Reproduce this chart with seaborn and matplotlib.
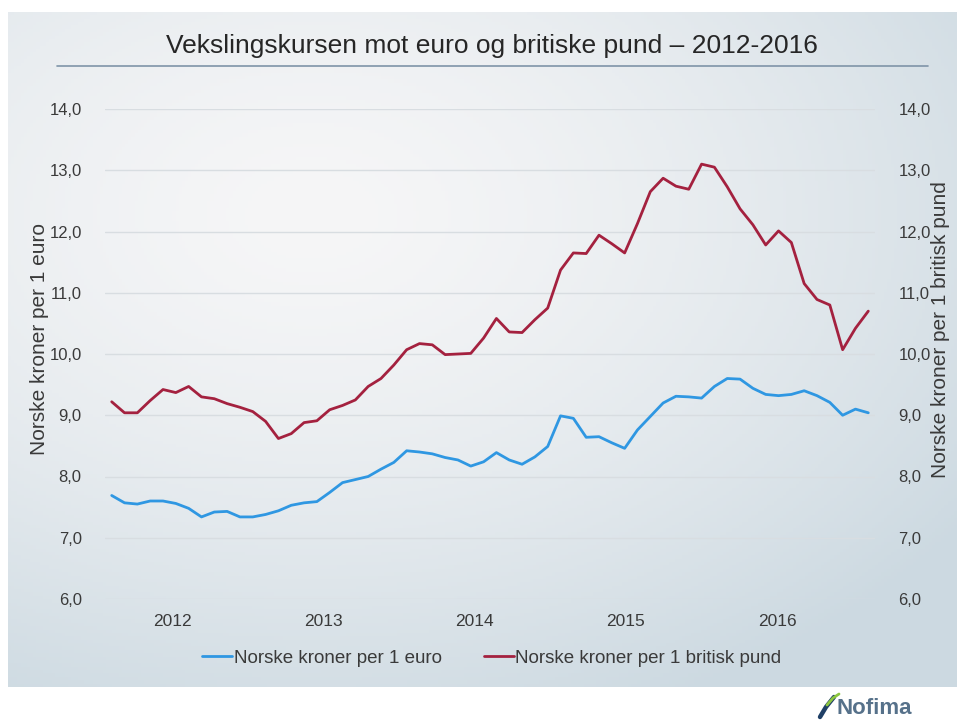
import numpy as np
import pandas as pd
import matplotlib.pyplot as plt
import seaborn as sns
from matplotlib.colors import to_rgb
from matplotlib.lines import Line2D

# Monthly exchange rates (60 months, 2012-2016)
euro = [7.69, 7.57, 7.55, 7.60, 7.60, 7.56, 7.48, 7.34, 7.42, 7.43, 7.34, 7.34,
        7.38, 7.44, 7.53, 7.57, 7.59, 7.74, 7.90, 7.95, 8.00, 8.12, 8.23, 8.42,
        8.40, 8.37, 8.31, 8.27, 8.17, 8.24, 8.39, 8.27, 8.20, 8.32, 8.49, 8.99,
        8.95, 8.64, 8.65, 8.55, 8.46, 8.76, 8.98, 9.20, 9.31, 9.30, 9.28, 9.47,
        9.60, 9.59, 9.44, 9.34, 9.32, 9.34, 9.40, 9.32, 9.21, 9.00, 9.10, 9.04]
pund = [9.22, 9.04, 9.04, 9.24, 9.42, 9.37, 9.47, 9.30, 9.27, 9.19, 9.13, 9.06,
        8.90, 8.62, 8.70, 8.88, 8.91, 9.09, 9.16, 9.25, 9.47, 9.60, 9.82, 10.07,
        10.17, 10.15, 9.99, 10.00, 10.01, 10.26, 10.58, 10.36, 10.35, 10.56, 10.75, 11.37,
        11.65, 11.64, 11.94, 11.80, 11.65, 12.13, 12.65, 12.87, 12.74, 12.69, 13.10, 13.05,
        12.73, 12.37, 12.11, 11.78, 12.01, 11.82, 11.15, 10.89, 10.80, 10.07, 10.42, 10.70]
years = ['2012', '2013', '2014', '2015', '2016']
y_ticks = [6, 7, 8, 9, 10, 11, 12, 13, 14]

title = 'Vekslingskursen mot euro og britiske pund – 2012-2016'
euro_label = 'Norske kroner per 1 euro'
pund_label = 'Norske kroner per 1 britisk pund'

df = pd.DataFrame({'maaned': np.arange(len(euro)), euro_label: euro, pund_label: pund})
df = df.melt('maaned', var_name='serie', value_name='kurs')

sns.set_theme(style='white')
plt.rcParams['font.family'] = ['Liberation Sans', 'DejaVu Sans']
txt = '#3a3a3a'
blue, red = '#2f97e2', '#a4213f'

W, H = 957, 722
fig = plt.figure(figsize=(W / 100, H / 100), dpi=100)
fig.patch.set_facecolor('white')


def fx(px):
    return px / W


def fy(py):
    return 1 - py / H


# gradient background panel
bg = fig.add_axes([fx(8), fy(687), fx(957) - fx(8), fy(12) - fy(687)], zorder=0)
yy, xx = np.mgrid[0:1:200j, 0:1:300j]
d = np.sqrt(((xx - 0.32) / 1.0) ** 2 + ((yy - 0.3) / 0.95) ** 2)
t = np.clip(d / 0.85, 0, 1) ** 1.5
c0, c1 = np.array(to_rgb('#f6f6f7')), np.array(to_rgb('#ccd9e1'))
bg.imshow(c0 + (c1 - c0) * t[..., None], aspect='auto', extent=[0, 1, 1, 0])
bg.axis('off')

# main plot area
ax = fig.add_axes([fx(105.3), fy(599), (874.7 - 105.3) / W, (599 - 109) / H], zorder=2)
ax.patch.set_alpha(0)
sns.lineplot(data=df, x='maaned', y='kurs', hue='serie', palette=[blue, red],
             linewidth=2.0, ax=ax, legend=False)
ax.set_xlim(-0.5, len(euro) - 0.5)
ax.set_ylim(6, 14)
ax.set_yticks(y_ticks)
ax.set_yticklabels([f'{v:.1f}'.replace('.', ',') for v in y_ticks])
ax.set_xticks(np.linspace(4.7, 51.9, len(years)))
ax.set_xticklabels(years)
ax.yaxis.grid(True, color='#d8dde1', linewidth=1)
ax.tick_params(axis='y', length=0, pad=17, labelsize=12, labelcolor=txt)
ax.tick_params(axis='x', length=0, pad=11, labelsize=12.5, labelcolor=txt)
ax.set_xlabel('')
ax.set_ylabel('')
sns.despine(ax=ax, left=True, bottom=True)

ax2 = ax.twinx()
ax2.set_ylim(6, 14)
ax2.set_yticks(y_ticks)
ax2.set_yticklabels([f'{v:.1f}'.replace('.', ',') for v in y_ticks])
ax2.tick_params(axis='y', length=0, pad=17, labelsize=12, labelcolor=txt)
sns.despine(ax=ax2, left=True, bottom=True, right=True)

fig.text(fx(40), fy(339), euro_label, rotation=90, ha='center', va='center',
         fontsize=15, color=txt)
fig.text(fx(941), fy(330), pund_label, rotation=90, ha='center', va='center',
         fontsize=15, color=txt)

# title and rule
fig.text(fx(492), fy(46), title, ha='center', va='center', fontsize=19, color='#262626')
fig.add_artist(Line2D([fx(57), fx(928)], [fy(66), fy(66)], color='#7f94a8', linewidth=1.2))

# legend
handles = [Line2D([], [], color=blue, linewidth=2.0), Line2D([], [], color=red, linewidth=2.0)]
fig.legend(handles, [euro_label, pund_label], loc='center', bbox_to_anchor=(fx(492), fy(658)),
           ncol=2, frameon=False, fontsize=13.5, handlelength=1.6, handletextpad=0.1,
           columnspacing=2.2, labelcolor=txt)

# logo
fig.add_artist(Line2D([fx(820), fx(826), fx(834)], [fy(717), fy(707), fy(697)],
                      color='#1f3f66', linewidth=3.2, solid_capstyle='round'))
fig.add_artist(Line2D([fx(827), fx(833), fx(839)], [fy(705), fy(698), fy(694)],
                      color='#8cc63f', linewidth=2, solid_capstyle='round'))
fig.text(fx(837), fy(708), 'Nofima', fontsize=16, fontweight='bold', color='#56718a',
         va='center', ha='left')

fig.savefig('out.png', dpi=100)
